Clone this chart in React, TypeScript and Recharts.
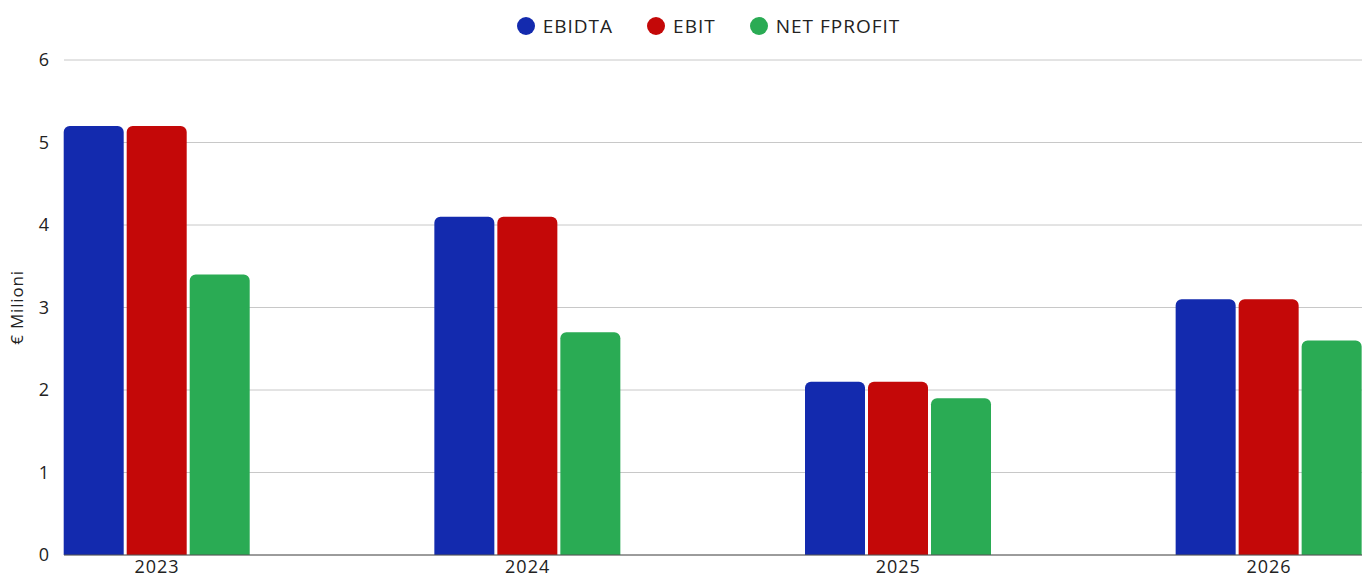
import { BarChart, Bar, XAxis, YAxis, CartesianGrid, Legend } from 'recharts';

const anni = ['2023', '2024', '2025', '2026'];
const ebitda = [5.2, 4.1, 2.1, 3.1];
const ebit = [5.2, 4.1, 2.1, 3.1];
const utileNetto = [3.4, 2.7, 1.9, 2.6];
const tickY = [0, 1, 2, 3, 4, 5, 6];

const serie = [
  { key: 'ebitda', nome: 'EBIDTA', colore: '#132aae' },
  { key: 'ebit', nome: 'EBIT', colore: '#c40808' },
  { key: 'netto', nome: 'NET FPROFIT', colore: '#2aab54' },
];

const dati = anni.map((anno, i) => ({
  anno,
  ebitda: ebitda[i],
  ebit: ebit[i],
  netto: utileNetto[i],
}));

const FONT = '"Open Sans", "DejaVu Sans", sans-serif';
const testo = { fontSize: 18, fill: '#222', fontFamily: FONT, letterSpacing: 1 };

function Legenda() {
  return (
    <div
      style={{
        display: 'flex',
        justifyContent: 'center',
        alignItems: 'center',
        height: 36,
        fontFamily: FONT,
        fontSize: 19,
        letterSpacing: 1,
        color: '#222',
        paddingLeft: 55,
      }}
    >
      {serie.map((s) => (
        <div key={s.key} style={{ display: 'flex', alignItems: 'center', margin: '0 17px' }}>
          <span
            style={{
              width: 18,
              height: 18,
              borderRadius: '50%',
              background: s.colore,
              display: 'inline-block',
              marginRight: 8,
            }}
          />
          <span>{s.nome}</span>
        </div>
      ))}
    </div>
  );
}

export default function App() {
  return (
    <div style={{ position: 'absolute', left: 0, top: 0, width: 1369, height: 577, background: '#fff' }}>
      <BarChart
        width={1369}
        height={577}
        data={dati}
        margin={{ top: 24, right: 7, left: 0, bottom: 0 }}
        barSize={60}
        barGap={3}
      >
        <Legend
          verticalAlign="top"
          align="center"
          wrapperStyle={{ top: 8 }}
          content={() => <Legenda />}
        />
        <CartesianGrid vertical={false} stroke="#c8c8c8" />
        <XAxis
          dataKey="anno"
          padding={{ left: -92.3, right: -92.3 }}
          tickLine={false}
          axisLine={{ stroke: '#555' }}
          tickSize={0}
          tickMargin={5}
          height={22}
          tick={testo}
        />
        <YAxis
          domain={[0, 6]}
          ticks={tickY}
          width={64}
          axisLine={false}
          tickLine={false}
          tickSize={6}
          tickMargin={8}
          tick={testo}
          label={{
            value: '€ Milioni',
            angle: -90,
            position: 'insideLeft',
            offset: 17,
            style: { textAnchor: 'middle', fontSize: 17, fill: '#222', fontFamily: FONT, letterSpacing: 0.8 },
          }}
        />
        {serie.map((s) => (
          <Bar
            key={s.key}
            dataKey={s.key}
            name={s.nome}
            fill={s.colore}
            radius={[6, 6, 0, 0]}
            isAnimationActive={false}
          />
        ))}
      </BarChart>
    </div>
  );
}
